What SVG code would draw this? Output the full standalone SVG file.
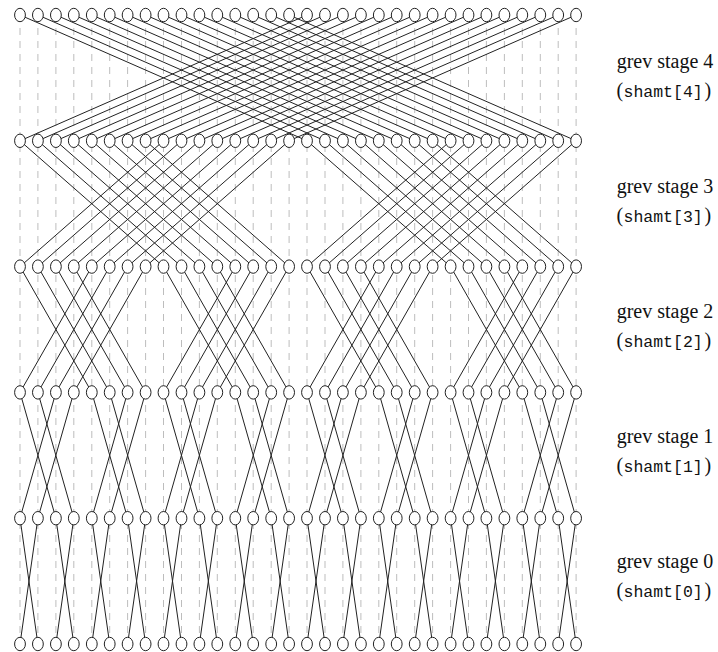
<svg xmlns="http://www.w3.org/2000/svg" xmlns:xlink="http://www.w3.org/1999/xlink" width="718" height="652" viewBox="0 0 718 652">
<style>
.d{stroke:#bdbdbd;stroke-width:1;stroke-dasharray:7 6;fill:none}
.e{stroke:#222;stroke-width:1;fill:none}
.lb{font-family:"Liberation Serif",serif;font-size:20px;fill:#111}
.mo{font-family:"Liberation Mono",monospace;font-size:16.5px}
</style>
<defs>
<ellipse id="n" cx="0" cy="0" rx="5.4" ry="6.7" fill="#fff" stroke="#222" stroke-width="1"/>
</defs>
<rect width="718" height="652" fill="#fff"/>
<g id="guides">
<path class="d" d="M20 15V644M37.9 15V644M55.9 15V644M73.8 15V644M91.8 15V644M109.7 15V644M127.6 15V644M145.6 15V644M163.5 15V644M181.5 15V644M199.4 15V644M217.3 15V644M235.3 15V644M253.2 15V644M271.2 15V644M289.1 15V644M307 15V644M325 15V644M342.9 15V644M360.9 15V644M378.8 15V644M396.7 15V644M414.7 15V644M432.6 15V644M450.6 15V644M468.5 15V644M486.4 15V644M504.4 15V644M522.3 15V644M540.3 15V644M558.2 15V644M576.1 15V644"/>
</g>
<g id="connectors">
<g id="stage4">
<path class="e" d="M20 15L307 140.8"/><path class="e" d="M37.9 15L325 140.8"/><path class="e" d="M55.9 15L342.9 140.8"/><path class="e" d="M73.8 15L360.9 140.8"/><path class="e" d="M91.8 15L378.8 140.8"/><path class="e" d="M109.7 15L396.7 140.8"/><path class="e" d="M127.6 15L414.7 140.8"/><path class="e" d="M145.6 15L432.6 140.8"/><path class="e" d="M163.5 15L450.6 140.8"/><path class="e" d="M181.5 15L468.5 140.8"/><path class="e" d="M199.4 15L486.4 140.8"/><path class="e" d="M217.3 15L504.4 140.8"/><path class="e" d="M235.3 15L522.3 140.8"/><path class="e" d="M253.2 15L540.3 140.8"/><path class="e" d="M271.2 15L558.2 140.8"/><path class="e" d="M289.1 15L576.1 140.8"/>
<path class="e" d="M307 15L20 140.8"/><path class="e" d="M325 15L37.9 140.8"/><path class="e" d="M342.9 15L55.9 140.8"/><path class="e" d="M360.9 15L73.8 140.8"/><path class="e" d="M378.8 15L91.8 140.8"/><path class="e" d="M396.7 15L109.7 140.8"/><path class="e" d="M414.7 15L127.6 140.8"/><path class="e" d="M432.6 15L145.6 140.8"/><path class="e" d="M450.6 15L163.5 140.8"/><path class="e" d="M468.5 15L181.5 140.8"/><path class="e" d="M486.4 15L199.4 140.8"/><path class="e" d="M504.4 15L217.3 140.8"/><path class="e" d="M522.3 15L235.3 140.8"/><path class="e" d="M540.3 15L253.2 140.8"/><path class="e" d="M558.2 15L271.2 140.8"/><path class="e" d="M576.1 15L289.1 140.8"/>
</g>
<g id="stage3">
<path class="e" d="M20 140.8L163.5 266.6"/><path class="e" d="M37.9 140.8L181.5 266.6"/><path class="e" d="M55.9 140.8L199.4 266.6"/><path class="e" d="M73.8 140.8L217.3 266.6"/><path class="e" d="M91.8 140.8L235.3 266.6"/><path class="e" d="M109.7 140.8L253.2 266.6"/><path class="e" d="M127.6 140.8L271.2 266.6"/><path class="e" d="M145.6 140.8L289.1 266.6"/>
<path class="e" d="M163.5 140.8L20 266.6"/><path class="e" d="M181.5 140.8L37.9 266.6"/><path class="e" d="M199.4 140.8L55.9 266.6"/><path class="e" d="M217.3 140.8L73.8 266.6"/><path class="e" d="M235.3 140.8L91.8 266.6"/><path class="e" d="M253.2 140.8L109.7 266.6"/><path class="e" d="M271.2 140.8L127.6 266.6"/><path class="e" d="M289.1 140.8L145.6 266.6"/>
<path class="e" d="M307 140.8L450.6 266.6"/><path class="e" d="M325 140.8L468.5 266.6"/><path class="e" d="M342.9 140.8L486.4 266.6"/><path class="e" d="M360.9 140.8L504.4 266.6"/><path class="e" d="M378.8 140.8L522.3 266.6"/><path class="e" d="M396.7 140.8L540.3 266.6"/><path class="e" d="M414.7 140.8L558.2 266.6"/><path class="e" d="M432.6 140.8L576.1 266.6"/>
<path class="e" d="M450.6 140.8L307 266.6"/><path class="e" d="M468.5 140.8L325 266.6"/><path class="e" d="M486.4 140.8L342.9 266.6"/><path class="e" d="M504.4 140.8L360.9 266.6"/><path class="e" d="M522.3 140.8L378.8 266.6"/><path class="e" d="M540.3 140.8L396.7 266.6"/><path class="e" d="M558.2 140.8L414.7 266.6"/><path class="e" d="M576.1 140.8L432.6 266.6"/>
</g>
<g id="stage2">
<path class="e" d="M20 266.6L91.8 392.4"/><path class="e" d="M37.9 266.6L109.7 392.4"/><path class="e" d="M55.9 266.6L127.6 392.4"/><path class="e" d="M73.8 266.6L145.6 392.4"/><path class="e" d="M91.8 266.6L20 392.4"/><path class="e" d="M109.7 266.6L37.9 392.4"/><path class="e" d="M127.6 266.6L55.9 392.4"/><path class="e" d="M145.6 266.6L73.8 392.4"/>
<path class="e" d="M163.5 266.6L235.3 392.4"/><path class="e" d="M181.5 266.6L253.2 392.4"/><path class="e" d="M199.4 266.6L271.2 392.4"/><path class="e" d="M217.3 266.6L289.1 392.4"/><path class="e" d="M235.3 266.6L163.5 392.4"/><path class="e" d="M253.2 266.6L181.5 392.4"/><path class="e" d="M271.2 266.6L199.4 392.4"/><path class="e" d="M289.1 266.6L217.3 392.4"/>
<path class="e" d="M307 266.6L378.8 392.4"/><path class="e" d="M325 266.6L396.7 392.4"/><path class="e" d="M342.9 266.6L414.7 392.4"/><path class="e" d="M360.9 266.6L432.6 392.4"/><path class="e" d="M378.8 266.6L307 392.4"/><path class="e" d="M396.7 266.6L325 392.4"/><path class="e" d="M414.7 266.6L342.9 392.4"/><path class="e" d="M432.6 266.6L360.9 392.4"/>
<path class="e" d="M450.6 266.6L522.3 392.4"/><path class="e" d="M468.5 266.6L540.3 392.4"/><path class="e" d="M486.4 266.6L558.2 392.4"/><path class="e" d="M504.4 266.6L576.1 392.4"/><path class="e" d="M522.3 266.6L450.6 392.4"/><path class="e" d="M540.3 266.6L468.5 392.4"/><path class="e" d="M558.2 266.6L486.4 392.4"/><path class="e" d="M576.1 266.6L504.4 392.4"/>
</g>
<g id="stage1">
<path class="e" d="M20 392.4L55.9 518.2"/><path class="e" d="M37.9 392.4L73.8 518.2"/><path class="e" d="M55.9 392.4L20 518.2"/><path class="e" d="M73.8 392.4L37.9 518.2"/>
<path class="e" d="M91.8 392.4L127.6 518.2"/><path class="e" d="M109.7 392.4L145.6 518.2"/><path class="e" d="M127.6 392.4L91.8 518.2"/><path class="e" d="M145.6 392.4L109.7 518.2"/>
<path class="e" d="M163.5 392.4L199.4 518.2"/><path class="e" d="M181.5 392.4L217.3 518.2"/><path class="e" d="M199.4 392.4L163.5 518.2"/><path class="e" d="M217.3 392.4L181.5 518.2"/>
<path class="e" d="M235.3 392.4L271.2 518.2"/><path class="e" d="M253.2 392.4L289.1 518.2"/><path class="e" d="M271.2 392.4L235.3 518.2"/><path class="e" d="M289.1 392.4L253.2 518.2"/>
<path class="e" d="M307 392.4L342.9 518.2"/><path class="e" d="M325 392.4L360.9 518.2"/><path class="e" d="M342.9 392.4L307 518.2"/><path class="e" d="M360.9 392.4L325 518.2"/>
<path class="e" d="M378.8 392.4L414.7 518.2"/><path class="e" d="M396.7 392.4L432.6 518.2"/><path class="e" d="M414.7 392.4L378.8 518.2"/><path class="e" d="M432.6 392.4L396.7 518.2"/>
<path class="e" d="M450.6 392.4L486.4 518.2"/><path class="e" d="M468.5 392.4L504.4 518.2"/><path class="e" d="M486.4 392.4L450.6 518.2"/><path class="e" d="M504.4 392.4L468.5 518.2"/>
<path class="e" d="M522.3 392.4L558.2 518.2"/><path class="e" d="M540.3 392.4L576.1 518.2"/><path class="e" d="M558.2 392.4L522.3 518.2"/><path class="e" d="M576.1 392.4L540.3 518.2"/>
</g>
<g id="stage0">
<path class="e" d="M20 518.2L37.9 644"/><path class="e" d="M37.9 518.2L20 644"/><path class="e" d="M55.9 518.2L73.8 644"/><path class="e" d="M73.8 518.2L55.9 644"/>
<path class="e" d="M91.8 518.2L109.7 644"/><path class="e" d="M109.7 518.2L91.8 644"/><path class="e" d="M127.6 518.2L145.6 644"/><path class="e" d="M145.6 518.2L127.6 644"/>
<path class="e" d="M163.5 518.2L181.5 644"/><path class="e" d="M181.5 518.2L163.5 644"/><path class="e" d="M199.4 518.2L217.3 644"/><path class="e" d="M217.3 518.2L199.4 644"/>
<path class="e" d="M235.3 518.2L253.2 644"/><path class="e" d="M253.2 518.2L235.3 644"/><path class="e" d="M271.2 518.2L289.1 644"/><path class="e" d="M289.1 518.2L271.2 644"/>
<path class="e" d="M307 518.2L325 644"/><path class="e" d="M325 518.2L307 644"/><path class="e" d="M342.9 518.2L360.9 644"/><path class="e" d="M360.9 518.2L342.9 644"/>
<path class="e" d="M378.8 518.2L396.7 644"/><path class="e" d="M396.7 518.2L378.8 644"/><path class="e" d="M414.7 518.2L432.6 644"/><path class="e" d="M432.6 518.2L414.7 644"/>
<path class="e" d="M450.6 518.2L468.5 644"/><path class="e" d="M468.5 518.2L450.6 644"/><path class="e" d="M486.4 518.2L504.4 644"/><path class="e" d="M504.4 518.2L486.4 644"/>
<path class="e" d="M522.3 518.2L540.3 644"/><path class="e" d="M540.3 518.2L522.3 644"/><path class="e" d="M558.2 518.2L576.1 644"/><path class="e" d="M576.1 518.2L558.2 644"/>
</g>
</g>
<g id="nodes">
<g id="row0">
<g id="r0c0"><use href="#n" x="20" y="15"/></g><g id="r0c1"><use href="#n" x="37.9" y="15"/></g><g id="r0c2"><use href="#n" x="55.9" y="15"/></g><g id="r0c3"><use href="#n" x="73.8" y="15"/></g><g id="r0c4"><use href="#n" x="91.8" y="15"/></g><g id="r0c5"><use href="#n" x="109.7" y="15"/></g><g id="r0c6"><use href="#n" x="127.6" y="15"/></g><g id="r0c7"><use href="#n" x="145.6" y="15"/></g><g id="r0c8"><use href="#n" x="163.5" y="15"/></g><g id="r0c9"><use href="#n" x="181.5" y="15"/></g><g id="r0c10"><use href="#n" x="199.4" y="15"/></g><g id="r0c11"><use href="#n" x="217.3" y="15"/></g><g id="r0c12"><use href="#n" x="235.3" y="15"/></g><g id="r0c13"><use href="#n" x="253.2" y="15"/></g><g id="r0c14"><use href="#n" x="271.2" y="15"/></g><g id="r0c15"><use href="#n" x="289.1" y="15"/></g><g id="r0c16"><use href="#n" x="307" y="15"/></g><g id="r0c17"><use href="#n" x="325" y="15"/></g><g id="r0c18"><use href="#n" x="342.9" y="15"/></g><g id="r0c19"><use href="#n" x="360.9" y="15"/></g><g id="r0c20"><use href="#n" x="378.8" y="15"/></g><g id="r0c21"><use href="#n" x="396.7" y="15"/></g><g id="r0c22"><use href="#n" x="414.7" y="15"/></g><g id="r0c23"><use href="#n" x="432.6" y="15"/></g><g id="r0c24"><use href="#n" x="450.6" y="15"/></g><g id="r0c25"><use href="#n" x="468.5" y="15"/></g><g id="r0c26"><use href="#n" x="486.4" y="15"/></g><g id="r0c27"><use href="#n" x="504.4" y="15"/></g><g id="r0c28"><use href="#n" x="522.3" y="15"/></g><g id="r0c29"><use href="#n" x="540.3" y="15"/></g><g id="r0c30"><use href="#n" x="558.2" y="15"/></g><g id="r0c31"><use href="#n" x="576.1" y="15"/></g>
</g>
<g id="row1">
<g id="r1c0"><use href="#n" x="20" y="140.8"/></g><g id="r1c1"><use href="#n" x="37.9" y="140.8"/></g><g id="r1c2"><use href="#n" x="55.9" y="140.8"/></g><g id="r1c3"><use href="#n" x="73.8" y="140.8"/></g><g id="r1c4"><use href="#n" x="91.8" y="140.8"/></g><g id="r1c5"><use href="#n" x="109.7" y="140.8"/></g><g id="r1c6"><use href="#n" x="127.6" y="140.8"/></g><g id="r1c7"><use href="#n" x="145.6" y="140.8"/></g><g id="r1c8"><use href="#n" x="163.5" y="140.8"/></g><g id="r1c9"><use href="#n" x="181.5" y="140.8"/></g><g id="r1c10"><use href="#n" x="199.4" y="140.8"/></g><g id="r1c11"><use href="#n" x="217.3" y="140.8"/></g><g id="r1c12"><use href="#n" x="235.3" y="140.8"/></g><g id="r1c13"><use href="#n" x="253.2" y="140.8"/></g><g id="r1c14"><use href="#n" x="271.2" y="140.8"/></g><g id="r1c15"><use href="#n" x="289.1" y="140.8"/></g><g id="r1c16"><use href="#n" x="307" y="140.8"/></g><g id="r1c17"><use href="#n" x="325" y="140.8"/></g><g id="r1c18"><use href="#n" x="342.9" y="140.8"/></g><g id="r1c19"><use href="#n" x="360.9" y="140.8"/></g><g id="r1c20"><use href="#n" x="378.8" y="140.8"/></g><g id="r1c21"><use href="#n" x="396.7" y="140.8"/></g><g id="r1c22"><use href="#n" x="414.7" y="140.8"/></g><g id="r1c23"><use href="#n" x="432.6" y="140.8"/></g><g id="r1c24"><use href="#n" x="450.6" y="140.8"/></g><g id="r1c25"><use href="#n" x="468.5" y="140.8"/></g><g id="r1c26"><use href="#n" x="486.4" y="140.8"/></g><g id="r1c27"><use href="#n" x="504.4" y="140.8"/></g><g id="r1c28"><use href="#n" x="522.3" y="140.8"/></g><g id="r1c29"><use href="#n" x="540.3" y="140.8"/></g><g id="r1c30"><use href="#n" x="558.2" y="140.8"/></g><g id="r1c31"><use href="#n" x="576.1" y="140.8"/></g>
</g>
<g id="row2">
<g id="r2c0"><use href="#n" x="20" y="266.6"/></g><g id="r2c1"><use href="#n" x="37.9" y="266.6"/></g><g id="r2c2"><use href="#n" x="55.9" y="266.6"/></g><g id="r2c3"><use href="#n" x="73.8" y="266.6"/></g><g id="r2c4"><use href="#n" x="91.8" y="266.6"/></g><g id="r2c5"><use href="#n" x="109.7" y="266.6"/></g><g id="r2c6"><use href="#n" x="127.6" y="266.6"/></g><g id="r2c7"><use href="#n" x="145.6" y="266.6"/></g><g id="r2c8"><use href="#n" x="163.5" y="266.6"/></g><g id="r2c9"><use href="#n" x="181.5" y="266.6"/></g><g id="r2c10"><use href="#n" x="199.4" y="266.6"/></g><g id="r2c11"><use href="#n" x="217.3" y="266.6"/></g><g id="r2c12"><use href="#n" x="235.3" y="266.6"/></g><g id="r2c13"><use href="#n" x="253.2" y="266.6"/></g><g id="r2c14"><use href="#n" x="271.2" y="266.6"/></g><g id="r2c15"><use href="#n" x="289.1" y="266.6"/></g><g id="r2c16"><use href="#n" x="307" y="266.6"/></g><g id="r2c17"><use href="#n" x="325" y="266.6"/></g><g id="r2c18"><use href="#n" x="342.9" y="266.6"/></g><g id="r2c19"><use href="#n" x="360.9" y="266.6"/></g><g id="r2c20"><use href="#n" x="378.8" y="266.6"/></g><g id="r2c21"><use href="#n" x="396.7" y="266.6"/></g><g id="r2c22"><use href="#n" x="414.7" y="266.6"/></g><g id="r2c23"><use href="#n" x="432.6" y="266.6"/></g><g id="r2c24"><use href="#n" x="450.6" y="266.6"/></g><g id="r2c25"><use href="#n" x="468.5" y="266.6"/></g><g id="r2c26"><use href="#n" x="486.4" y="266.6"/></g><g id="r2c27"><use href="#n" x="504.4" y="266.6"/></g><g id="r2c28"><use href="#n" x="522.3" y="266.6"/></g><g id="r2c29"><use href="#n" x="540.3" y="266.6"/></g><g id="r2c30"><use href="#n" x="558.2" y="266.6"/></g><g id="r2c31"><use href="#n" x="576.1" y="266.6"/></g>
</g>
<g id="row3">
<g id="r3c0"><use href="#n" x="20" y="392.4"/></g><g id="r3c1"><use href="#n" x="37.9" y="392.4"/></g><g id="r3c2"><use href="#n" x="55.9" y="392.4"/></g><g id="r3c3"><use href="#n" x="73.8" y="392.4"/></g><g id="r3c4"><use href="#n" x="91.8" y="392.4"/></g><g id="r3c5"><use href="#n" x="109.7" y="392.4"/></g><g id="r3c6"><use href="#n" x="127.6" y="392.4"/></g><g id="r3c7"><use href="#n" x="145.6" y="392.4"/></g><g id="r3c8"><use href="#n" x="163.5" y="392.4"/></g><g id="r3c9"><use href="#n" x="181.5" y="392.4"/></g><g id="r3c10"><use href="#n" x="199.4" y="392.4"/></g><g id="r3c11"><use href="#n" x="217.3" y="392.4"/></g><g id="r3c12"><use href="#n" x="235.3" y="392.4"/></g><g id="r3c13"><use href="#n" x="253.2" y="392.4"/></g><g id="r3c14"><use href="#n" x="271.2" y="392.4"/></g><g id="r3c15"><use href="#n" x="289.1" y="392.4"/></g><g id="r3c16"><use href="#n" x="307" y="392.4"/></g><g id="r3c17"><use href="#n" x="325" y="392.4"/></g><g id="r3c18"><use href="#n" x="342.9" y="392.4"/></g><g id="r3c19"><use href="#n" x="360.9" y="392.4"/></g><g id="r3c20"><use href="#n" x="378.8" y="392.4"/></g><g id="r3c21"><use href="#n" x="396.7" y="392.4"/></g><g id="r3c22"><use href="#n" x="414.7" y="392.4"/></g><g id="r3c23"><use href="#n" x="432.6" y="392.4"/></g><g id="r3c24"><use href="#n" x="450.6" y="392.4"/></g><g id="r3c25"><use href="#n" x="468.5" y="392.4"/></g><g id="r3c26"><use href="#n" x="486.4" y="392.4"/></g><g id="r3c27"><use href="#n" x="504.4" y="392.4"/></g><g id="r3c28"><use href="#n" x="522.3" y="392.4"/></g><g id="r3c29"><use href="#n" x="540.3" y="392.4"/></g><g id="r3c30"><use href="#n" x="558.2" y="392.4"/></g><g id="r3c31"><use href="#n" x="576.1" y="392.4"/></g>
</g>
<g id="row4">
<g id="r4c0"><use href="#n" x="20" y="518.2"/></g><g id="r4c1"><use href="#n" x="37.9" y="518.2"/></g><g id="r4c2"><use href="#n" x="55.9" y="518.2"/></g><g id="r4c3"><use href="#n" x="73.8" y="518.2"/></g><g id="r4c4"><use href="#n" x="91.8" y="518.2"/></g><g id="r4c5"><use href="#n" x="109.7" y="518.2"/></g><g id="r4c6"><use href="#n" x="127.6" y="518.2"/></g><g id="r4c7"><use href="#n" x="145.6" y="518.2"/></g><g id="r4c8"><use href="#n" x="163.5" y="518.2"/></g><g id="r4c9"><use href="#n" x="181.5" y="518.2"/></g><g id="r4c10"><use href="#n" x="199.4" y="518.2"/></g><g id="r4c11"><use href="#n" x="217.3" y="518.2"/></g><g id="r4c12"><use href="#n" x="235.3" y="518.2"/></g><g id="r4c13"><use href="#n" x="253.2" y="518.2"/></g><g id="r4c14"><use href="#n" x="271.2" y="518.2"/></g><g id="r4c15"><use href="#n" x="289.1" y="518.2"/></g><g id="r4c16"><use href="#n" x="307" y="518.2"/></g><g id="r4c17"><use href="#n" x="325" y="518.2"/></g><g id="r4c18"><use href="#n" x="342.9" y="518.2"/></g><g id="r4c19"><use href="#n" x="360.9" y="518.2"/></g><g id="r4c20"><use href="#n" x="378.8" y="518.2"/></g><g id="r4c21"><use href="#n" x="396.7" y="518.2"/></g><g id="r4c22"><use href="#n" x="414.7" y="518.2"/></g><g id="r4c23"><use href="#n" x="432.6" y="518.2"/></g><g id="r4c24"><use href="#n" x="450.6" y="518.2"/></g><g id="r4c25"><use href="#n" x="468.5" y="518.2"/></g><g id="r4c26"><use href="#n" x="486.4" y="518.2"/></g><g id="r4c27"><use href="#n" x="504.4" y="518.2"/></g><g id="r4c28"><use href="#n" x="522.3" y="518.2"/></g><g id="r4c29"><use href="#n" x="540.3" y="518.2"/></g><g id="r4c30"><use href="#n" x="558.2" y="518.2"/></g><g id="r4c31"><use href="#n" x="576.1" y="518.2"/></g>
</g>
<g id="row5">
<g id="r5c0"><use href="#n" x="20" y="644"/></g><g id="r5c1"><use href="#n" x="37.9" y="644"/></g><g id="r5c2"><use href="#n" x="55.9" y="644"/></g><g id="r5c3"><use href="#n" x="73.8" y="644"/></g><g id="r5c4"><use href="#n" x="91.8" y="644"/></g><g id="r5c5"><use href="#n" x="109.7" y="644"/></g><g id="r5c6"><use href="#n" x="127.6" y="644"/></g><g id="r5c7"><use href="#n" x="145.6" y="644"/></g><g id="r5c8"><use href="#n" x="163.5" y="644"/></g><g id="r5c9"><use href="#n" x="181.5" y="644"/></g><g id="r5c10"><use href="#n" x="199.4" y="644"/></g><g id="r5c11"><use href="#n" x="217.3" y="644"/></g><g id="r5c12"><use href="#n" x="235.3" y="644"/></g><g id="r5c13"><use href="#n" x="253.2" y="644"/></g><g id="r5c14"><use href="#n" x="271.2" y="644"/></g><g id="r5c15"><use href="#n" x="289.1" y="644"/></g><g id="r5c16"><use href="#n" x="307" y="644"/></g><g id="r5c17"><use href="#n" x="325" y="644"/></g><g id="r5c18"><use href="#n" x="342.9" y="644"/></g><g id="r5c19"><use href="#n" x="360.9" y="644"/></g><g id="r5c20"><use href="#n" x="378.8" y="644"/></g><g id="r5c21"><use href="#n" x="396.7" y="644"/></g><g id="r5c22"><use href="#n" x="414.7" y="644"/></g><g id="r5c23"><use href="#n" x="432.6" y="644"/></g><g id="r5c24"><use href="#n" x="450.6" y="644"/></g><g id="r5c25"><use href="#n" x="468.5" y="644"/></g><g id="r5c26"><use href="#n" x="486.4" y="644"/></g><g id="r5c27"><use href="#n" x="504.4" y="644"/></g><g id="r5c28"><use href="#n" x="522.3" y="644"/></g><g id="r5c29"><use href="#n" x="540.3" y="644"/></g><g id="r5c30"><use href="#n" x="558.2" y="644"/></g><g id="r5c31"><use href="#n" x="576.1" y="644"/></g>
</g>
</g>
<g id="labels" class="lb">
<g id="label4"><text x="665" y="68" text-anchor="middle">grev stage 4</text><text y="97"><tspan x="616.5">(</tspan><tspan class="mo" x="623.5">shamt[4]</tspan><tspan x="704.5">)</tspan></text></g>
<g id="label3"><text x="665" y="193" text-anchor="middle">grev stage 3</text><text y="222"><tspan x="616.5">(</tspan><tspan class="mo" x="623.5">shamt[3]</tspan><tspan x="704.5">)</tspan></text></g>
<g id="label2"><text x="665" y="318" text-anchor="middle">grev stage 2</text><text y="347"><tspan x="616.5">(</tspan><tspan class="mo" x="623.5">shamt[2]</tspan><tspan x="704.5">)</tspan></text></g>
<g id="label1"><text x="665" y="443" text-anchor="middle">grev stage 1</text><text y="472"><tspan x="616.5">(</tspan><tspan class="mo" x="623.5">shamt[1]</tspan><tspan x="704.5">)</tspan></text></g>
<g id="label0"><text x="665" y="568" text-anchor="middle">grev stage 0</text><text y="597"><tspan x="616.5">(</tspan><tspan class="mo" x="623.5">shamt[0]</tspan><tspan x="704.5">)</tspan></text></g>
</g>
</svg>
